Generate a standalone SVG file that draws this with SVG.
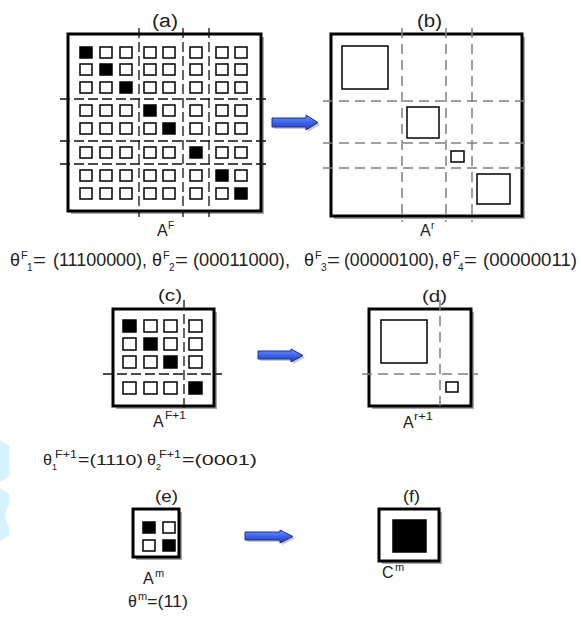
<svg xmlns="http://www.w3.org/2000/svg" width="581" height="622" viewBox="0 0 581 622">
  <defs>
    <linearGradient id="blue" x1="0" y1="0" x2="0" y2="1">
      <stop offset="0" stop-color="#6f95ff"/>
      <stop offset="0.5" stop-color="#3c62ea"/>
      <stop offset="1" stop-color="#2340b8"/>
    </linearGradient>
  </defs>
  <style>
    .frame{fill:#fff;stroke:#000;stroke-width:3}
    .shadow{fill:#a8a8a8}
    .c{fill:#fff;stroke:#000;stroke-width:1.5}
    .k{fill:#000;stroke:#000;stroke-width:1.5}
    .dk{stroke:#111;stroke-width:1.3;stroke-dasharray:10 4;fill:none}
    .dg{stroke:#7f7f7f;stroke-width:1.5;stroke-dasharray:10 6;fill:none}
    .t{font-family:"Liberation Sans",Arial,sans-serif;fill:#222}
    .arrow{fill:url(#blue);stroke:#1c2f8a;stroke-width:1;stroke-linejoin:round}
    .ashadow{fill:#c8c8c8}
    .wm{fill:#d6f0ff}
  </style>

  <rect width="581" height="622" fill="#fff"/>

  <!-- faint watermark at the left edge -->
  <g id="watermark">
    <path class="wm" d="M0,440 L9,446 L9,476 L0,482 Z"/>
    <path class="wm" d="M0,488 L9,494 L9,505 Q2,515 9,527 L9,535 L0,541 Z"/>
  </g>

  <!-- (a) full block matrix -->
  <g id="panel-a">
    <text class="t" x="152" y="27" font-size="18" textLength="26" lengthAdjust="spacingAndGlyphs">(a)</text>
    <rect class="shadow" x="71" y="37" width="193" height="177"/>
    <rect class="frame" x="68" y="34" width="193" height="177"/>
    <g>
      <rect class="k" x="80" y="47" width="12" height="11"/><rect class="c" x="100" y="47" width="12" height="11"/><rect class="c" x="120" y="47" width="12" height="11"/><rect class="c" x="144" y="47" width="12" height="11"/><rect class="c" x="163" y="47" width="12" height="11"/><rect class="c" x="190" y="47" width="12" height="11"/><rect class="c" x="216" y="47" width="12" height="11"/><rect class="c" x="235" y="47" width="12" height="11"/>
      <rect class="c" x="80" y="64" width="12" height="11"/><rect class="k" x="100" y="64" width="12" height="11"/><rect class="c" x="120" y="64" width="12" height="11"/><rect class="c" x="144" y="64" width="12" height="11"/><rect class="c" x="163" y="64" width="12" height="11"/><rect class="c" x="190" y="64" width="12" height="11"/><rect class="c" x="216" y="64" width="12" height="11"/><rect class="c" x="235" y="64" width="12" height="11"/>
      <rect class="c" x="80" y="82" width="12" height="11"/><rect class="c" x="100" y="82" width="12" height="11"/><rect class="k" x="120" y="82" width="12" height="11"/><rect class="c" x="144" y="82" width="12" height="11"/><rect class="c" x="163" y="82" width="12" height="11"/><rect class="c" x="190" y="82" width="12" height="11"/><rect class="c" x="216" y="82" width="12" height="11"/><rect class="c" x="235" y="82" width="12" height="11"/>
      <rect class="c" x="80" y="105" width="12" height="11"/><rect class="c" x="100" y="105" width="12" height="11"/><rect class="c" x="120" y="105" width="12" height="11"/><rect class="k" x="144" y="105" width="12" height="11"/><rect class="c" x="163" y="105" width="12" height="11"/><rect class="c" x="190" y="105" width="12" height="11"/><rect class="c" x="216" y="105" width="12" height="11"/><rect class="c" x="235" y="105" width="12" height="11"/>
      <rect class="c" x="80" y="123" width="12" height="11"/><rect class="c" x="100" y="123" width="12" height="11"/><rect class="c" x="120" y="123" width="12" height="11"/><rect class="c" x="144" y="123" width="12" height="11"/><rect class="k" x="163" y="123" width="12" height="11"/><rect class="c" x="190" y="123" width="12" height="11"/><rect class="c" x="216" y="123" width="12" height="11"/><rect class="c" x="235" y="123" width="12" height="11"/>
      <rect class="c" x="80" y="147" width="12" height="11"/><rect class="c" x="100" y="147" width="12" height="11"/><rect class="c" x="120" y="147" width="12" height="11"/><rect class="c" x="144" y="147" width="12" height="11"/><rect class="c" x="163" y="147" width="12" height="11"/><rect class="k" x="190" y="147" width="12" height="11"/><rect class="c" x="216" y="147" width="12" height="11"/><rect class="c" x="235" y="147" width="12" height="11"/>
      <rect class="c" x="80" y="170" width="12" height="11"/><rect class="c" x="100" y="170" width="12" height="11"/><rect class="c" x="120" y="170" width="12" height="11"/><rect class="c" x="144" y="170" width="12" height="11"/><rect class="c" x="163" y="170" width="12" height="11"/><rect class="c" x="190" y="170" width="12" height="11"/><rect class="k" x="216" y="170" width="12" height="11"/><rect class="c" x="235" y="170" width="12" height="11"/>
      <rect class="c" x="80" y="188" width="12" height="11"/><rect class="c" x="100" y="188" width="12" height="11"/><rect class="c" x="120" y="188" width="12" height="11"/><rect class="c" x="144" y="188" width="12" height="11"/><rect class="c" x="163" y="188" width="12" height="11"/><rect class="c" x="190" y="188" width="12" height="11"/><rect class="c" x="216" y="188" width="12" height="11"/><rect class="k" x="235" y="188" width="12" height="11"/>
    </g>
    <path class="dk" d="M139,28 V217 M183,28 V217 M209,28 V217 M60,99 H267 M60,141 H267 M60,164 H267"/>
    <text class="t" x="157" y="236" font-size="16">A</text>
    <text class="t" x="168" y="229" font-size="10">F</text>
  </g>

  <!-- (b) compressed blocks -->
  <g id="panel-b">
    <text class="t" x="417" y="27" font-size="18" textLength="25" lengthAdjust="spacingAndGlyphs">(b)</text>
    <rect class="shadow" x="334" y="37" width="191" height="182"/>
    <rect class="frame" x="331" y="34" width="191" height="182"/>
    <rect class="c" x="342" y="46" width="46" height="43"/>
    <rect class="c" x="407" y="107" width="32" height="31"/>
    <rect class="c" x="451" y="151" width="13" height="11"/>
    <rect class="c" x="477" y="174" width="33" height="30"/>
    <path class="dg" d="M402,28 V222 M446,28 V222 M472,28 V222 M323,101 H530 M323,143 H530 M323,168 H530"/>
    <text class="t" x="420" y="236" font-size="16">A</text>
    <text class="t" x="431" y="229" font-size="10">r</text>
  </g>

  <!-- level-F pattern vectors -->
  <g id="theta-F">
    <text class="t" x="10" y="266" font-size="18">θ</text>
    <text class="t" x="21" y="259" font-size="11">F</text>
    <text class="t" x="27" y="271" font-size="10">1</text>
    <text class="t" x="33" y="266" font-size="18" textLength="13" lengthAdjust="spacingAndGlyphs">=</text>
    <text class="t" x="53" y="266" font-size="18" textLength="94" lengthAdjust="spacingAndGlyphs">(11100000),</text>

    <text class="t" x="152" y="266" font-size="18">θ</text>
    <text class="t" x="163" y="259" font-size="11">F</text>
    <text class="t" x="169" y="271" font-size="10">2</text>
    <text class="t" x="175" y="266" font-size="18" textLength="13" lengthAdjust="spacingAndGlyphs">=</text>
    <text class="t" x="193" y="266" font-size="18" textLength="97" lengthAdjust="spacingAndGlyphs">(00011000),</text>

    <text class="t" x="304" y="266" font-size="18">θ</text>
    <text class="t" x="315" y="259" font-size="11">F</text>
    <text class="t" x="321" y="271" font-size="10">3</text>
    <text class="t" x="327" y="266" font-size="18" textLength="13" lengthAdjust="spacingAndGlyphs">=</text>
    <text class="t" x="344" y="266" font-size="18" textLength="95" lengthAdjust="spacingAndGlyphs">(00000100),</text>

    <text class="t" x="442" y="266" font-size="18">θ</text>
    <text class="t" x="453" y="259" font-size="11">F</text>
    <text class="t" x="458" y="271" font-size="10">4</text>
    <text class="t" x="464" y="266" font-size="18" textLength="13" lengthAdjust="spacingAndGlyphs">=</text>
    <text class="t" x="483" y="266" font-size="18" textLength="94" lengthAdjust="spacingAndGlyphs">(00000011)</text>
  </g>

  <!-- (c) next level pattern matrix -->
  <g id="panel-c">
    <text class="t" x="158" y="301" font-size="17" textLength="24" lengthAdjust="spacingAndGlyphs">(c)</text>
    <rect class="shadow" x="116" y="312" width="101" height="97"/>
    <rect class="frame" x="113" y="309" width="101" height="97"/>
    <rect class="k" x="123" y="320" width="13" height="12"/><rect class="c" x="144" y="320" width="13" height="12"/><rect class="c" x="164" y="320" width="13" height="12"/><rect class="c" x="189" y="320" width="13" height="12"/>
    <rect class="c" x="123" y="338" width="13" height="12"/><rect class="k" x="144" y="338" width="13" height="12"/><rect class="c" x="164" y="338" width="13" height="12"/><rect class="c" x="189" y="338" width="13" height="12"/>
    <rect class="c" x="123" y="356" width="13" height="12"/><rect class="c" x="144" y="356" width="13" height="12"/><rect class="k" x="164" y="356" width="13" height="12"/><rect class="c" x="189" y="356" width="13" height="12"/>
    <rect class="c" x="123" y="382" width="13" height="12"/><rect class="c" x="144" y="382" width="13" height="12"/><rect class="c" x="164" y="382" width="13" height="12"/><rect class="k" x="189" y="382" width="13" height="12"/>
    <path class="dk" d="M184,300 V411 M103,374 H222"/>
    <text class="t" x="153" y="427" font-size="16">A</text>
    <text class="t" x="165" y="419" font-size="11" textLength="21" lengthAdjust="spacingAndGlyphs">F+1</text>
  </g>

  <!-- (d) compressed next level -->
  <g id="panel-d">
    <text class="t" x="422" y="302" font-size="17" textLength="25" lengthAdjust="spacingAndGlyphs">(d)</text>
    <rect class="shadow" x="372" y="312" width="102" height="97"/>
    <rect class="frame" x="369" y="309" width="102" height="97"/>
    <rect class="c" x="381" y="320" width="46" height="43"/>
    <rect class="c" x="446" y="382" width="12" height="10"/>
    <path class="dg" d="M440,300 V412 M362,374 H478"/>
    <text class="t" x="403" y="428" font-size="16">A</text>
    <text class="t" x="414" y="420" font-size="11" textLength="19" lengthAdjust="spacingAndGlyphs">r+1</text>
  </g>

  <!-- level F+1 pattern vectors -->
  <g id="theta-F1">
    <text class="t" x="43" y="465" font-size="15" textLength="9" lengthAdjust="spacingAndGlyphs">θ</text>
    <text class="t" x="52" y="470" font-size="9">1</text>
    <text class="t" x="55" y="458" font-size="11" textLength="22" lengthAdjust="spacingAndGlyphs">F+1</text>
    <text class="t" x="78" y="465" font-size="15" textLength="65" lengthAdjust="spacingAndGlyphs">=(1110)</text>
    <text class="t" x="147" y="465" font-size="15" textLength="9" lengthAdjust="spacingAndGlyphs">θ</text>
    <text class="t" x="156" y="470" font-size="9">2</text>
    <text class="t" x="159" y="458" font-size="11" textLength="22" lengthAdjust="spacingAndGlyphs">F+1</text>
    <text class="t" x="182" y="465" font-size="15" textLength="75" lengthAdjust="spacingAndGlyphs">=(0001)</text>
  </g>

  <!-- (e) top level pattern matrix -->
  <g id="panel-e">
    <text class="t" x="155" y="502" font-size="17" textLength="23" lengthAdjust="spacingAndGlyphs">(e)</text>
    <rect class="shadow" x="136" y="512" width="46" height="48"/>
    <rect class="frame" x="133" y="509" width="46" height="48"/>
    <rect class="k" x="143" y="522" width="12" height="11"/><rect class="c" x="163" y="522" width="12" height="11"/>
    <rect class="c" x="143" y="540" width="12" height="11"/><rect class="k" x="163" y="540" width="12" height="11"/>
    <text class="t" x="143" y="584" font-size="16">A</text>
    <text class="t" x="155" y="577" font-size="11">m</text>
    <text class="t" x="128" y="607" font-size="16">θ</text>
    <text class="t" x="138" y="600" font-size="11">m</text>
    <text class="t" x="147" y="607" font-size="16" textLength="41" lengthAdjust="spacingAndGlyphs">=(11)</text>
  </g>

  <!-- (f) final compressed matrix -->
  <g id="panel-f">
    <text class="t" x="403" y="502" font-size="17" textLength="17" lengthAdjust="spacingAndGlyphs">(f)</text>
    <rect class="shadow" x="382" y="512" width="60" height="52"/>
    <rect class="frame" x="379" y="509" width="60" height="52"/>
    <rect class="k" x="393" y="520" width="33" height="32"/>
    <text class="t" x="382" y="578" font-size="16">C</text>
    <text class="t" x="395" y="571" font-size="11">m</text>
  </g>

  <!-- transformation arrows -->
  <g id="connectors">
    <path class="ashadow" d="M274,120 H308 V117 L320,124.5 L308,132 V129 H274 Z"/>
    <path class="arrow" d="M272,118 H306 V115 L318,122.5 L306,130 V127 H272 Z"/>
    <path class="ashadow" d="M260,353 H293 V351 L305,357.5 L293,364 V361 H260 Z"/>
    <path class="arrow" d="M258,351 H291 V349 L303,355.5 L291,362 V359 H258 Z"/>
    <path class="ashadow" d="M247,534 H282 V532 L295,538.5 L282,545 V542 H247 Z"/>
    <path class="arrow" d="M245,532 H280 V530 L293,536.5 L280,543 V540 H245 Z"/>
  </g>
</svg>
